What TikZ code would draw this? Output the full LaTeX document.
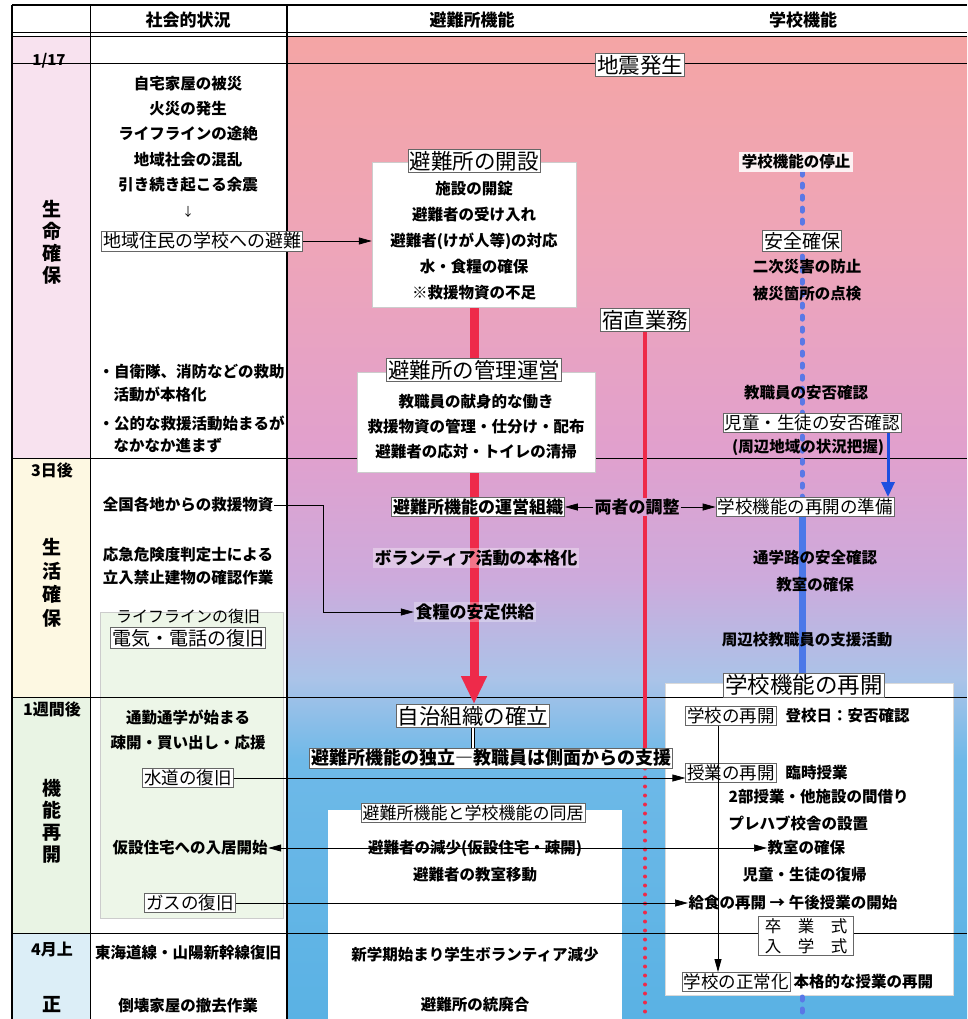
\documentclass[tikz,border=0pt]{standalone}
\usepackage{fontspec}
\setmainfont{Noto Sans CJK JP}
\usetikzlibrary{arrows.meta,calc}
\pgfdeclarelayer{bgl}
\pgfdeclarelayer{lnl}
\pgfsetlayers{bgl,lnl,main}
\definecolor{leftpink}{HTML}{F8E2EF}
\definecolor{leftcream}{HTML}{FDF8E2}
\definecolor{leftgreen}{HTML}{E9F4E4}
\definecolor{leftblue}{HTML}{DCEEF7}
\definecolor{greenbox}{HTML}{EDF6E8}
\definecolor{redline}{HTML}{EE2A4A}
\definecolor{bluedot}{HTML}{5A78E6}
\definecolor{bluesolid}{HTML}{4C78E8}
\definecolor{bluearr}{HTML}{1E4FE0}
\definecolor{ryobg}{HTML}{D8A4D4}
\pgfdeclareverticalshading{bgshade}{100bp}{rgb(0bp)=(0.353,0.698,0.894); rgb(25bp)=(0.353,0.698,0.894); rgb(38.2bp)=(0.431,0.725,0.91); rgb(42.3bp)=(0.667,0.765,0.91); rgb(47.4bp)=(0.804,0.667,0.863); rgb(54bp)=(0.882,0.627,0.804); rgb(64.2bp)=(0.933,0.647,0.725); rgb(75bp)=(0.957,0.647,0.647); rgb(100bp)=(0.957,0.647,0.647)}
\begin{document}
\begin{tikzpicture}[x=1pt,y=-1pt,
  itm/.style={font=\fontsize{15.5}{18}\selectfont\bfseries, inner sep=0.5pt},
  itmw/.style={itm, anchor=west},
  lbl/.style={draw=black!60, line width=0.7pt, fill=white, font=\fontsize{17.5}{20}\selectfont, inner sep=1.5pt},
  ttl/.style={draw=black!60, line width=0.7pt, fill=white, font=\fontsize{21.5}{24}\selectfont, inner sep=1.5pt},
  hdr/.style={font=\fontsize{17}{20}\selectfont\bfseries},
  side/.style={font=\fontsize{19}{22}\selectfont\bfseries, align=center},
  tm/.style={font=\fontsize{16}{18}\selectfont\bfseries},
  wbox/.style={fill=white, draw=black!20, line width=0.5pt, inner sep=0pt},
  conn/.style={line width=0.7pt, -{Triangle[length=13pt,width=7pt]}},
  grid/.style={line width=1pt, black}
]
\useasboundingbox (0,0) rectangle (967,1019);
\coordinate (bot) at (0,1019);
\coordinate (vl) at (323,0);
\coordinate (vx) at (718,0);
\coordinate (bx) at (802,0);
\coordinate (ba) at (888,0);
\coordinate (wbb) at (0,997);

% ---------- backgrounds ----------
\begin{pgfonlayer}{bgl}
\fill[white] (0,0) rectangle (967,1019);
\fill[leftpink] (12,37) rectangle (90,458);
\fill[leftcream] (12,458) rectangle (90,697);
\fill[leftgreen] (12,697) rectangle (90,933);
\fill[leftblue] (12,933) rectangle (90,1019);
\fill[white] (90,37) rectangle (287,1019);
\filldraw[fill=greenbox, draw=black!20, line width=0.5pt] (100,612) rectangle (283,918);
\shade[shading=bgshade] (288,37) rectangle (967,1019);
\filldraw[fill=white, draw=black!15, line width=0.5pt] (665,683) rectangle (953,995);
\fill[white] (328,810) rectangle (622,1019);
\end{pgfonlayer}

% ---------- header ----------
\node[hdr] (h1) at (188,20) {社会的状況};
\node[hdr] (h2) at (472,20) {避難所機能};
\node[hdr] (h3) at (803,20) {学校機能};

% ---------- left column ----------
\node[tm, font=\fontsize{15}{17}\selectfont\bfseries] (d1) at (49,61) {1/17};
\node[tm] (d2) at (52,470) {3日後};
\node[tm] (d3) at (52,709) {1週間後};
\node[tm] (d4) at (52,949) {4月上};
\node[side] (p1) at (52,242) {生\\命\\確\\保};
\node[side, font=\fontsize{19}{23.5}\selectfont\bfseries] (p2) at (52,583) {生\\活\\確\\保};
\node[side] (p3) at (52,821) {機\\能\\再\\開};
\node[side] (p4) at (52,1005) {正};

% ---------- social column ----------
\node[itm] (s1) at (188,84) {自宅家屋の被災};
\node[itm] (s2) at (188,109) {火災の発生};
\node[itm] (s3) at (188,134) {ライフラインの途絶};
\node[itm] (s4) at (188,160) {地域社会の混乱};
\node[itm] (s5) at (188,185) {引き続き起こる余震};
\node[font=\fontsize{12}{14}\selectfont] (s6) at (188,212) {↓};
\node[lbl, font=\fontsize{18}{20}\selectfont] (s7) at (202,241) {地域住民の学校への避難};
\node[itmw] (s8a) at (98,372) {・自衛隊、消防などの救助};
\node[itmw] (s8b) at (113,395) {活動が本格化};
\node[itmw] (s9a) at (98,424) {・公的な救援活動始まるが};
\node[itmw] (s9b) at (113,446) {なかなか進まず};
\node[itm] (s10) at (188,505) {全国各地からの救援物資};
\node[itm] (s11a) at (188,555) {応急危険度判定士による};
\node[itm] (s11b) at (188,578) {立入禁止建物の確認作業};
\node[font=\fontsize{16}{18}\selectfont, inner sep=0.5pt] (s12) at (188,616) {ライフラインの復旧};
\node[lbl, font=\fontsize{19}{21}\selectfont] (s13) at (188,638) {電気・電話の復旧};
\node[itm] (s14) at (188,717) {通勤通学が始まる};
\node[itm] (s15) at (188,743) {疎開・買い出し・応援};
\node[lbl] (s16) at (188,778) {水道の復旧};
\node[itm] (s17) at (190,848) {仮設住宅への入居開始};
\node[lbl] (s18) at (190,903) {ガスの復旧};
\node[itm] (s19) at (188,953) {東海道線・山陽新幹線復旧};
\node[itm] (s20) at (188,1006) {倒壊家屋の撤去作業};

% ---------- shelter column ----------
\node[ttl] (quake) at (640,65) {地震発生};
\node[wbox, minimum width=204pt, minimum height=145pt] (openbox) at (474,234.5) {};
\node[ttl] (o0) at (474,161) {避難所の開設};
\node[itm] (o1) at (474,189) {施設の開錠};
\node[itm] (o2) at (474,215) {避難者の受け入れ};
\node[itm] (o3) at (474,241) {避難者(けが人等)の対応};
\node[itm] (o4) at (474,267) {水・食糧の確保};
\node[itm] (o5) at (474,293) {※救援物資の不足};
\node[ttl] (shuku) at (645,320) {宿直業務};
\node[wbox, minimum width=238pt, minimum height=100pt] (managebox) at (476,422) {};
\node[ttl] (m0) at (474,370) {避難所の管理運営};
\node[itm] (m1) at (476,402) {教職員の献身的な働き};
\node[itm] (m2) at (476,427) {救援物資の管理・仕分け・配布};
\node[itm] (m3) at (476,452) {避難者の応対・トイレの清掃};
\node[lbl, font=\fontsize{17}{20}\selectfont\bfseries] (unei) at (478,507) {避難所機能の運営組織};
\node[font=\fontsize{17}{20}\selectfont\bfseries, fill=ryobg, inner sep=1pt] (ryo) at (637,507) {両者の調整};
\node[font=\fontsize{17}{20}\selectfont\bfseries, fill=white, fill opacity=0.35, text opacity=1, inner sep=1.5pt] (vol) at (476,558) {ボランティア活動の本格化};
\node[font=\fontsize{17}{20}\selectfont\bfseries, fill=white, fill opacity=0.3, text opacity=1, inner sep=1.5pt] (food) at (475,612) {食糧の安定供給};
\node[ttl] (jichi) at (473,716) {自治組織の確立};
\node[lbl, font=\fontsize{18}{20}\selectfont\bfseries] (dokuritsu) at (491,758) {避難所機能の独立―教職員は側面からの支援};
\node[lbl, font=\fontsize{17}{20}\selectfont] (dokyo) at (473,813) {避難所機能と学校機能の同居};
\node[itm] (gensho) at (475,848) {避難者の減少(仮設住宅・疎開)};
\node[itm] (idou) at (475,875) {避難者の教室移動};
\node[itm] (shingakki) at (475,955) {新学期始まり学生ボランティア減少};
\node[itm] (toha) at (475,1005) {避難所の統廃合};

% ---------- school column ----------
\node[itm, fill=white, fill opacity=0.85, text opacity=1, inner sep=2.5pt] (teishi) at (796,162) {学校機能の停止};
\node[lbl, font=\fontsize{19}{21}\selectfont] (anzen) at (802,241) {安全確保};
\node[itm] (r1) at (807,267) {二次災害の防止};
\node[itm] (r2) at (807,294) {被災箇所の点検};
\node[itm] (r3) at (806,393) {教職員の安否確認};
\node[lbl] (jido) at (812,423) {児童・生徒の安否確認};
\node[itm] (r4) at (808,447) {(周辺地域の状況把握)};
\node[lbl] (junbi) at (805,507) {学校機能の再開の準備};
\node[itm] (r5) at (815,558) {通学路の安全確認};
\node[itm] (r6) at (815,585) {教室の確保};
\node[itm] (r7) at (807,640) {周辺校教職員の支援活動};
\node[ttl, font=\fontsize{22.5}{25}\selectfont] (saikai) at (804,685) {学校機能の再開};
\node[lbl] (kai) at (731,716) {学校の再開};
\node[itmw] (kai2) at (785,716) {登校日：安否確認};
\node[lbl] (jugyo) at (731,773) {授業の再開};
\node[itmw] (jugyo2) at (785,773) {臨時授業};
\node[itmw] (r8) at (728,797) {2部授業・他施設の間借り};
\node[itmw] (r9) at (728,823) {プレハブ校舎の設置};
\node[itmw] (kyoshitsu) at (767,848) {教室の確保};
\node[itmw] (r10) at (742,875) {児童・生徒の復帰};
\node[itmw] (kyushoku) at (688,903) {給食の再開 → 午後授業の開始};
\node[lbl, font=\fontsize{16.5}{20}\selectfont, align=center, inner xsep=6pt, inner ysep=2pt] (sotsu) at (806,936) {卒　業　式\\入　学　式};
\node[lbl] (seijo) at (736,982) {学校の正常化};
\node[itmw] (seijo2) at (793,982) {本格的な授業の再開};

% ---------- grid lines and flow lines ----------
\begin{pgfonlayer}{lnl}
\draw[line width=1.8pt] (12,5) -- (967,5);
\draw[line width=1pt] (12,33) -- (967,33);
\draw[line width=1pt] (12,37) -- (967,37);
\draw[line width=1.5pt] (12,5) -- (12,1019);
\draw[line width=1pt] (90,5) -- (90,1019);
\draw[line width=1.8pt] (287,5) -- (287,1019);
\draw[line width=0.8pt] (12,63) -- (967,63);
\draw[grid] (12,458) -- (967,458);
\draw[grid] (12,697) -- (967,697);
\draw[grid] (12,933) -- (967,933);
% red thick shelter arrow
\draw[redline, line width=9pt] (openbox.south) -- (openbox.south |- managebox.north);
\draw[redline, line width=9pt, -{Triangle[length=28pt,width=24pt]}] (managebox.south -| openbox.south) -- (jichi.north -| openbox.south);
% night-duty line
\draw[redline, line width=3.5pt] (shuku.south) -- (shuku.south |- dokuritsu.north);
\draw[redline, line width=4pt, line cap=round, dash pattern=on 0pt off 9pt] (shuku.south |- dokuritsu.south) -- (shuku.south |- bot);
% school function lines
\draw[bluedot, line width=5pt, line cap=round, dash pattern=on 3pt off 9pt] (teishi.south -| bx) -- (junbi.north -| bx);
\draw[bluesolid, line width=7pt] (junbi.south -| bx) -- (saikai.north -| bx);
\draw[bluedot, line width=5pt, line cap=round, dash pattern=on 3pt off 9pt] (wbb -| bx) -- (bot -| bx);
\draw[bluearr, line width=3pt, -{Triangle[length=15pt,width=13pt]}] (jido.south -| ba) -- (junbi.north -| ba);
\end{pgfonlayer}

% ---------- connectors ----------
\draw[conn] (s7.east) -- (s7.east -| openbox.west);
\draw[conn, line width=0.6pt] (s10.east) -- (s10.east -| vl) |- (food.west);
\draw[conn] (ryo.west) -- (ryo.west -| unei.east);
\draw[conn] (ryo.east) -- (ryo.east -| junbi.west);
\draw[conn] (s16.east) -- (s16.east -| jugyo.west);
\draw[line width=0.7pt, {Triangle[length=13pt,width=7pt]}-{Triangle[length=13pt,width=7pt]}] (s17.east) -- (s17.east -| kyoshitsu.west);
\draw[conn] (s18.east) -- (s18.east -| kyushoku.west);
\draw[conn, line width=0.9pt] (kai.south -| vx) -- (seijo.north -| vx);
\draw[double, double distance=2.5pt, line width=0.6pt] (jichi.south) -- (jichi.south |- dokuritsu.north);
\end{tikzpicture}
\end{document}
